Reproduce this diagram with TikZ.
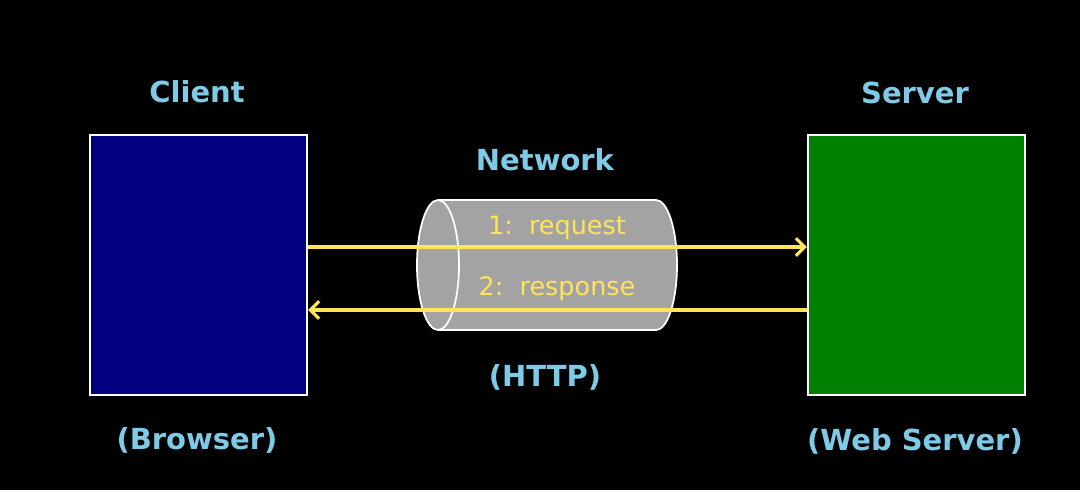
\documentclass[tikz,border=0pt]{standalone}
\usepackage{fontspec}
\setmainfont{DejaVu Sans}
\usetikzlibrary{arrows.meta}
\definecolor{lblue}{HTML}{7ECBE8}
\definecolor{yel}{HTML}{FFE45A}
\definecolor{cylgray}{HTML}{A3A3A3}
\begin{document}
\begin{tikzpicture}[x=0.02cm,y=-0.02cm,
  hand/.style={text=lblue,font=\fontsize{16.5}{18}\selectfont\bfseries},
  msg/.style={text=yel,font=\fontsize{14.5}{16}\selectfont},
  box/.style={draw=white,line width=1.2pt},
  wire/.style={draw=yel,line width=1.8pt,-{Straight Barb[length=5pt,width=10pt,line width=1.8pt]}}]
\fill[black] (0,0) rectangle (1080,490);
\useasboundingbox (0,0) rectangle (1080,490);
\node[box,fill={rgb,255:red,0;green,0;blue,128},minimum width=217*0.02cm,minimum height=260*0.02cm,inner sep=0pt] (client) at (198.5,265) {};
\node[box,fill={rgb,255:red,0;green,128;blue,0},minimum width=217*0.02cm,minimum height=260*0.02cm,inner sep=0pt] (server) at (916.5,265) {};
% cylinder
\draw[white,line width=1pt,fill=cylgray] (438,200) -- (656,200) arc[start angle=-90,end angle=90,x radius=21,y radius=65] -- (438,330) arc[start angle=90,end angle=270,x radius=21,y radius=65] -- cycle;
\draw[white,line width=1pt] (438,200) arc[start angle=-90,end angle=90,x radius=21,y radius=65];
\node[msg] (req) at (557,228) {1:\ \ request};
\node[msg] (resp) at (557,289) {2:\ \ response};
\coordinate (ra) at (client.east |- 0,247);
\coordinate (rb) at (server.west |- 0,247);
\coordinate (sa) at (server.west |- 0,310);
\coordinate (sb) at (client.east |- 0,310);
\draw[wire] (ra) -- (rb);
\draw[wire] (sa) -- (sb);
\node[hand] (lclient) at (197,92) {Client};
\node[hand] (lserver) at (915,93) {Server};
\node[hand] (lnet) at (545,160) {Network};
\node[hand] (lhttp) at (545,377) {(HTTP)};
\node[hand] (lbrowser) at (197,440) {(Browser)};
\node[hand] (lweb) at (915,441) {(Web Server)};
\end{tikzpicture}
\end{document}
